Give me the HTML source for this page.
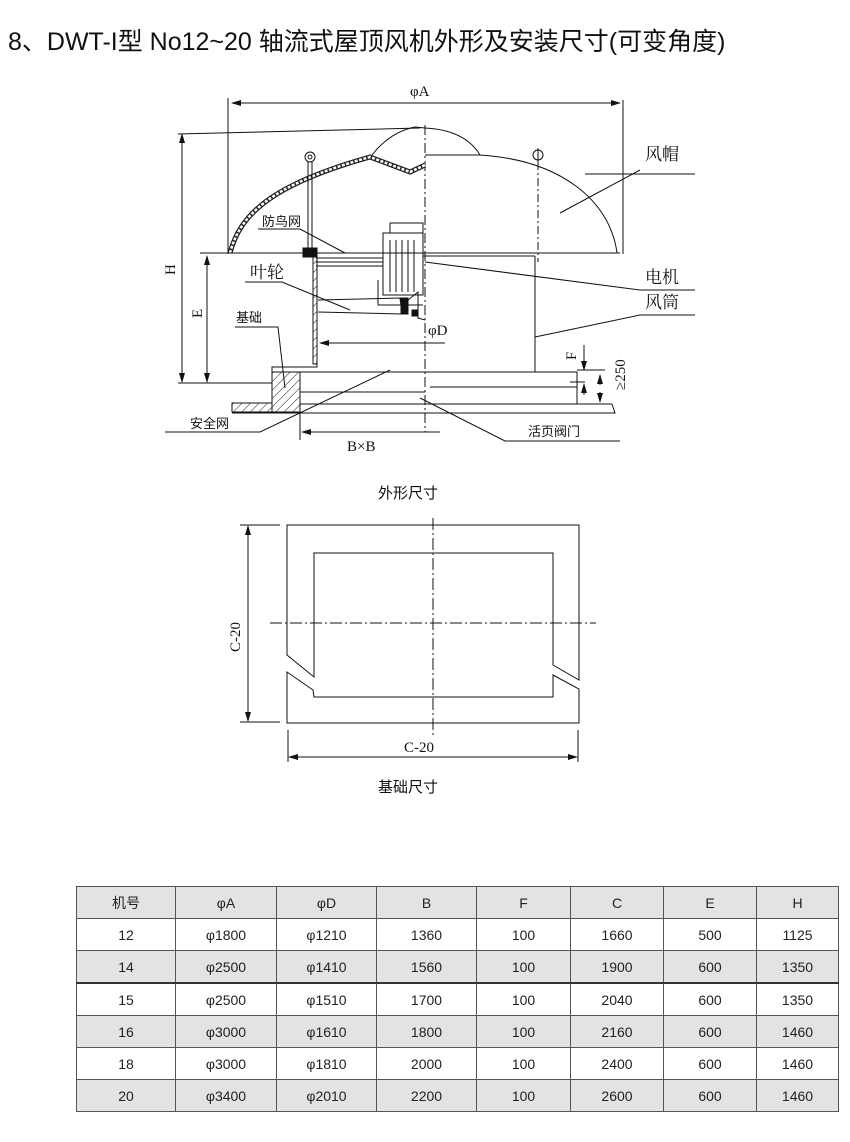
<!DOCTYPE html>
<html><head><meta charset="utf-8"><style>
html,body{margin:0;padding:0;background:#fff;}
body{width:850px;height:1142px;position:relative;overflow:hidden;font-family:"Liberation Sans","Noto Sans CJK SC",sans-serif;}
.title{position:absolute;left:8px;top:22px;font-size:25px;color:#111;white-space:nowrap;}
table{position:absolute;left:76px;top:886px;border-collapse:collapse;font-size:14px;color:#222;}
td{border:1px solid #555;text-align:center;height:31px;padding:0;}
tr.g td{background:#e3e3e3;}
</style></head><body>
<div class="title">8、DWT-I型 No12~20 轴流式屋顶风机外形及安装尺寸(可变角度)</div>
<svg width="850" height="1142" style="position:absolute;left:0;top:0" xmlns="http://www.w3.org/2000/svg" font-family="Liberation Serif, Noto Serif CJK SC, serif">
<defs>
<marker id="ar" markerWidth="10" markerHeight="6" refX="9" refY="3" orient="auto" markerUnits="userSpaceOnUse"><path d="M0,0 L10,3 L0,6 z" fill="#111"/></marker>
<pattern id="hat" width="6" height="6" patternUnits="userSpaceOnUse" patternTransform="rotate(45)"><line x1="0" y1="0" x2="0" y2="6" stroke="#111" stroke-width="1"/></pattern>
</defs>
<g stroke="#111" stroke-width="1" fill="none">
<line x1="228" y1="98" x2="228" y2="254"/><line x1="623" y1="100" x2="623" y2="254"/>
<line x1="240" y1="103" x2="620" y2="103" marker-end="url(#ar)"/>
<line x1="240" y1="103" x2="232" y2="103" marker-end="url(#ar)"/>
<line x1="425" y1="125" x2="425" y2="432" stroke-dasharray="10,3,2,3"/>
<path d="M230,253 C240,215 270,185 370,157 L410,172 L425,165" stroke-width="5" stroke="#222"/>
<path d="M230,253 C240,215 270,185 370,157 L410,172 L425,165" stroke-width="2.5" stroke="#fff" stroke-dasharray="3,1.5"/>
<path d="M372,155 Q390,132 415,127 L425,128"/>
<path d="M425,128 Q465,130 480,155"/>
<path d="M425,155 L480,155 C560,160 610,200 617,253"/>
<line x1="200" y1="253" x2="620" y2="253"/>
<circle cx="310" cy="157" r="5"/><circle cx="310" cy="157" r="2"/>
<circle cx="538" cy="155" r="5"/><line x1="538" y1="148" x2="538" y2="162"/>
<line x1="308" y1="162" x2="308" y2="248"/><line x1="312" y1="162" x2="312" y2="248"/>
<line x1="538" y1="162" x2="538" y2="262" stroke-dasharray="8,3,2,3"/>
<rect x="383" y="233" width="40" height="62"/>
<rect x="390" y="223" width="33" height="10"/>
<line x1="390" y1="240" x2="390" y2="292"/><line x1="396" y1="240" x2="396" y2="292"/><line x1="402" y1="240" x2="402" y2="292"/><line x1="408" y1="240" x2="408" y2="292"/><line x1="414" y1="240" x2="414" y2="292"/>
<path d="M378,280 L378,305 L423,305"/>
<line x1="316" y1="258" x2="383" y2="258"/><line x1="316" y1="262" x2="383" y2="262"/><line x1="316" y1="266" x2="383" y2="266"/>
<line x1="423" y1="256" x2="535" y2="256"/><line x1="535" y1="256" x2="535" y2="372"/>
<rect x="313" y="256" width="4" height="108" fill="url(#hat)"/>
<path d="M317,364 L317,367 L272,367 L272,380"/>
<path d="M318,300 L400,298 L402,314 L318,312"/>
<rect x="401" y="298" width="7" height="16" fill="#111"/>
<rect x="412" y="310" width="6" height="6" fill="#111"/>
<path d="M408,300 L418,292 L418,318 L425,320"/>
<rect x="303" y="248" width="14" height="9" fill="#111"/>
<rect x="272" y="372" width="28" height="40" fill="url(#hat)"/>
<rect x="232" y="403" width="40" height="9" fill="url(#hat)"/>
<path d="M298,372 L577,372 L577,387"/>
<path d="M300,392 L425,392"/><path d="M430,387 L577,387 L577,404"/>
<line x1="300" y1="404" x2="612" y2="404"/>
<path d="M232,413 L615,413 L612,404"/>
<line x1="300" y1="372" x2="300" y2="440"/>
<line x1="182" y1="138" x2="182" y2="382" marker-end="url(#ar)"/><line x1="182" y1="140" x2="182" y2="134" marker-end="url(#ar)"/>
<line x1="178" y1="134" x2="420" y2="128"/>
<line x1="207" y1="256" x2="207" y2="382" marker-end="url(#ar)"/><line x1="207" y1="262" x2="207" y2="256" marker-end="url(#ar)"/>
<line x1="178" y1="383" x2="272" y2="383"/>
<line x1="445" y1="343" x2="320" y2="343" marker-end="url(#ar)"/>
<line x1="440" y1="432" x2="302" y2="432" marker-end="url(#ar)"/>
<line x1="584" y1="345" x2="584" y2="370" marker-end="url(#ar)"/>
<line x1="577" y1="370" x2="605" y2="370"/>
<line x1="570" y1="382" x2="585" y2="382"/>
<line x1="584" y1="395" x2="584" y2="384" marker-end="url(#ar)"/>
<line x1="600" y1="385" x2="600" y2="375" marker-end="url(#ar)"/><line x1="600" y1="392" x2="600" y2="402" marker-end="url(#ar)"/>
<path d="M258,229 L300,229 L345,253"/>
<path d="M585,174 L695,174"/><path d="M560,213 L640,170"/>
<path d="M425,262 L640,290 L695,290"/>
<path d="M535,337 L640,315 L695,315"/>
<path d="M245,282 L282,282 L350,310"/>
<path d="M235,327 L278,327 L285,388"/>
<path d="M165,432 L260,432 L390,370"/>
<path d="M420,398 L505,441 L620,441"/>
<path d="M287,655 L287,525 L579,525 L579,680 L553,665 L553,553 L314,553 L314,677 Z"/>
<path d="M287,672 L313,690 L314,697 L553,697 L553,675 L579,689 L579,723 L287,723 Z"/>
<line x1="433" y1="518" x2="433" y2="735" stroke-dasharray="12,3,2,3"/>
<line x1="270" y1="623" x2="596" y2="623" stroke-dasharray="12,3,2,3"/>
<line x1="240" y1="525" x2="280" y2="525"/><line x1="240" y1="722" x2="280" y2="722"/>
<line x1="248" y1="532" x2="248" y2="526" marker-end="url(#ar)"/><line x1="248" y1="530" x2="248" y2="721" marker-end="url(#ar)"/>
<line x1="288" y1="730" x2="288" y2="762"/><line x1="578" y1="730" x2="578" y2="762"/>
<line x1="295" y1="757" x2="289" y2="757" marker-end="url(#ar)"/><line x1="292" y1="757" x2="577" y2="757" marker-end="url(#ar)"/>
</g>
<g fill="#111" font-size="15">
<text x="410" y="96">φA</text>
<text x="645" y="160" font-size="17">风帽</text>
<text x="645" y="283" font-size="17">电机</text>
<text x="645" y="308" font-size="17">风筒</text>
<text x="262" y="226" font-size="13" font-family="Liberation Sans, Noto Sans CJK SC, sans-serif">防鸟网</text>
<text x="250" y="278" font-size="17">叶轮</text>
<text x="236" y="322" font-size="13" font-family="Liberation Sans, Noto Sans CJK SC, sans-serif">基础</text>
<text x="190" y="428" font-size="13" font-family="Liberation Sans, Noto Sans CJK SC, sans-serif">安全网</text>
<text x="528" y="436" font-size="13" font-family="Liberation Sans, Noto Sans CJK SC, sans-serif">活页阀门</text>
<text x="347" y="451">B×B</text>
<text x="428" y="335">φD</text>
<text transform="translate(175,275) rotate(-90)">H</text>
<text transform="translate(202,318) rotate(-90)">E</text>
<text transform="translate(576,360) rotate(-90)">F</text>
<text transform="translate(625,390) rotate(-90)">≥250</text>
<text x="378" y="498" font-size="15" font-family="Liberation Sans, Noto Sans CJK SC, sans-serif">外形尺寸</text>
<text transform="translate(240,652) rotate(-90)">C-20</text>
<text x="404" y="752">C-20</text>
<text x="378" y="792" font-size="15" font-family="Liberation Sans, Noto Sans CJK SC, sans-serif">基础尺寸</text>
</g>
</svg>
<table>
<colgroup><col style="width:99px"><col style="width:101px"><col style="width:100px"><col style="width:100px"><col style="width:94px"><col style="width:93px"><col style="width:93px"><col style="width:82px"></colgroup>
<tr class="g"><td>机号</td><td>φA</td><td>φD</td><td>B</td><td>F</td><td>C</td><td>E</td><td>H</td></tr>
<tr><td>12</td><td>φ1800</td><td>φ1210</td><td>1360</td><td>100</td><td>1660</td><td>500</td><td>1125</td></tr>
<tr class="g"><td>14</td><td>φ2500</td><td>φ1410</td><td>1560</td><td>100</td><td>1900</td><td>600</td><td>1350</td></tr>
<tr><td style="border-top:2px solid #333">15</td><td style="border-top:2px solid #333">φ2500</td><td style="border-top:2px solid #333">φ1510</td><td style="border-top:2px solid #333">1700</td><td style="border-top:2px solid #333">100</td><td style="border-top:2px solid #333">2040</td><td style="border-top:2px solid #333">600</td><td style="border-top:2px solid #333">1350</td></tr>
<tr class="g"><td>16</td><td>φ3000</td><td>φ1610</td><td>1800</td><td>100</td><td>2160</td><td>600</td><td>1460</td></tr>
<tr><td>18</td><td>φ3000</td><td>φ1810</td><td>2000</td><td>100</td><td>2400</td><td>600</td><td>1460</td></tr>
<tr class="g"><td>20</td><td>φ3400</td><td>φ2010</td><td>2200</td><td>100</td><td>2600</td><td>600</td><td>1460</td></tr>
</table>
</body></html>
